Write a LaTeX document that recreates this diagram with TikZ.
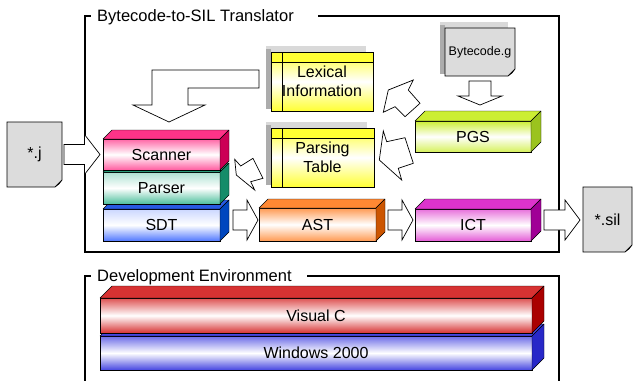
\documentclass[tikz,border=0pt]{standalone}
\usepackage{fontspec}
\setmainfont{Liberation Sans}
\usetikzlibrary{calc, backgrounds}

\definecolor{scanpink}{RGB}{255,51,136}
\definecolor{scanside}{RGB}{204,0,85}
\definecolor{parsegreen}{RGB}{45,179,138}
\definecolor{parseside}{RGB}{20,140,105}
\definecolor{sdtblue}{RGB}{40,90,225}
\definecolor{sdtside}{RGB}{0,70,190}
\definecolor{sdtfront}{RGB}{80,120,255}
\definecolor{astorange}{RGB}{255,136,51}
\definecolor{astside}{RGB}{204,85,0}
\definecolor{ictmagenta}{RGB}{221,51,204}
\definecolor{ictside}{RGB}{160,0,150}
\definecolor{pgslime}{RGB}{204,238,51}
\definecolor{pgsside}{RGB}{155,195,30}
\definecolor{vcred}{RGB}{215,50,50}
\definecolor{vcside}{RGB}{170,0,0}
\definecolor{winblue}{RGB}{70,70,225}
\definecolor{winside}{RGB}{40,40,200}
\definecolor{noteyellow}{RGB}{255,255,51}
\definecolor{docgray}{RGB}{220,220,220}

\tikzstyle{cubefront} = [rectangle, draw=black, outer sep=0pt, inner sep=0pt, font=\fontsize{16}{19}\selectfont]
\tikzstyle{notecard} = [rectangle, draw=black, outer sep=0pt, inner sep=0pt, minimum width=102, minimum height=59, align=center, top color=noteyellow, bottom color=noteyellow, middle color=white, font=\fontsize{16}{19}\selectfont]
\tikzstyle{docpage} = [rectangle, outer sep=0pt, inner sep=0pt, font=\fontsize{16}{19}\selectfont]
\tikzstyle{blockarrow} = [draw=black, fill=white, line width=0.7pt, line join=miter]
\tikzstyle{frameline} = [line width=1.6pt]
\tikzstyle{framelabel} = [anchor=west, inner sep=0pt, font=\fontsize{16.5}{19}\selectfont]

% top and right faces of a box: node, depth, top colour, side colour
\newcommand{\cubesides}[4]{%
  \filldraw[fill=#3, line join=round] (#1.north west) -- ++(#2,-#2) -- ([shift={(#2,-#2)}]#1.north east) -- (#1.north east) -- cycle;
  \filldraw[fill=#4, line join=round] (#1.north east) -- ++(#2,-#2) -- ([shift={(#2,-#2)}]#1.south east) -- (#1.south east) -- cycle;}

% grey shadow on the top and left of a card
\newcommand{\cardshadow}[1]{%
  \begin{pgfonlayer}{background}
    \fill[gray!30] ([shift={(-5,-6)}]#1.north west) rectangle ([shift={(-7,0)}]#1.north east);
    \fill[gray!65] ([shift={(-5,-3)}]#1.north west) rectangle ([shift={(0,-2)}]#1.south west);
  \end{pgfonlayer}}

\newcommand{\cardlines}[1]{%
  \filldraw[fill=noteyellow] (#1.north west) rectangle ([yshift=-10]#1.north east);
  \draw ([xshift=11]#1.north west) -- ([xshift=11]#1.south west);}

% page with a folded corner
\newcommand{\docshape}[1]{%
  \begin{pgfonlayer}{background}
    \filldraw[fill=docgray, line width=0.6pt] (#1.north west) -- (#1.north east) -- ([yshift=7]#1.south east) -- ([xshift=-7]#1.south east) -- (#1.south west) -- cycle;
    \filldraw[fill=white, line width=0.6pt] ([yshift=7]#1.south east) -- ([xshift=-3,yshift=3]#1.south east) -- ([xshift=-7]#1.south east) -- cycle;
  \end{pgfonlayer}}

\newcommand{\rightblock}[3][13pt]{%
  \draw[blockarrow] let \p1=#2, \p2=#3 in
    (\x1,\y1+10pt) -- (\x2-#1,\y1+10pt) -- (\x2-#1,\y1+20pt) -- (\x2,\y1) -- (\x2-#1,\y1-20pt) -- (\x2-#1,\y1-10pt) -- (\x1,\y1-10pt) -- cycle;}

\newcommand{\downblock}[2]{%
  \draw[blockarrow] let \p1=#1, \p2=#2 in
    (\x1-11pt,\y1) -- (\x1+11pt,\y1) -- (\x1+11pt,\y2+9pt) -- (\x1+22pt,\y2+9pt) -- (\x1,\y2) -- (\x1-22pt,\y2+9pt) -- (\x1-11pt,\y2+9pt) -- cycle;}

\begin{document}
\begin{tikzpicture}[x=1pt, y=-1pt]
  \useasboundingbox (0,0) rectangle (634,380);

  % frames
  \draw[frameline] (318,16) -- (559,16) -- (559,252) -- (85,252) -- (85,16) -- (91,16);
  \node (translator) [framelabel] at (97,17) {Bytecode-to-SIL Translator};
  \draw[frameline] (307,276) -- (559,276) -- (559,381);
  \draw[frameline] (85,381) -- (85,276) -- (91,276);
  \node (devenv) [framelabel] at (97,277) {Development Environment};

  % development environment
  \node (windows) [cubefront, minimum width=432, minimum height=34, top color=winblue!80, bottom color=winblue, middle color=white] at (316,353) {Windows 2000};
  \cubesides{windows}{12}{winblue}{winside}
  \node (visualc) [cubefront, minimum width=432, minimum height=35, top color=vcred!85, bottom color=vcred, middle color=white] at (316,315.5) {Visual C};
  \cubesides{visualc}{12}{vcred}{vcside}

  % translator stack
  \node (sdt) [cubefront, minimum width=117, minimum height=32, top color=sdtfront!30, bottom color=sdtfront, middle color=white] at (161.5,225) {SDT};
  \cubesides{sdt}{9}{sdtblue}{sdtside}
  \node (parser) [cubefront, minimum width=117, minimum height=32, top color=parsegreen!40, bottom color=parsegreen!85, middle color=white] at (161.5,188) {Parser};
  \cubesides{parser}{9}{parsegreen}{parseside}
  \node (scanner) [cubefront, minimum width=117, minimum height=31, top color=scanpink!75, bottom color=scanpink!80, middle color=white] at (161.5,154.5) {Scanner};
  \cubesides{scanner}{9}{scanpink}{scanside}

  \node (ast) [cubefront, minimum width=117, minimum height=33, top color=astorange!85, bottom color=astorange!85, middle color=white] at (317.5,224.5) {AST};
  \cubesides{ast}{9}{astorange}{astside}
  \node (ict) [cubefront, minimum width=116, minimum height=32, top color=ictmagenta!70, bottom color=ictmagenta!80, middle color=white] at (473,225) {ICT};
  \cubesides{ict}{10}{ictmagenta}{ictside}
  \node (pgs) [cubefront, minimum width=116, minimum height=31, top color=pgslime, bottom color=pgslime!80, middle color=white] at (473,136.5) {PGS};
  \cubesides{pgs}{10}{pgslime}{pgsside}

  % tables
  \node (lexinfo) [notecard] at (322,81.5) {Lexical\\Information};
  \cardshadow{lexinfo}
  \cardlines{lexinfo}
  \node (parstable) [notecard, minimum width=103] at (322.5,157.5) {Parsing\\Table};
  \cardshadow{parstable}
  \cardlines{parstable}

  % files
  \node (docj) [docpage, minimum width=55, minimum height=65] at (34.5,154.5) {*.j};
  \docshape{docj}
  \node (docsil) [docpage, minimum width=49, minimum height=65] at (607.5,219.5) {*.sil};
  \docshape{docsil}
  \node (docg) [docpage, minimum width=70, minimum height=48, font=\fontsize{12.5}{15}\selectfont] at (480,52) {Bytecode.g};
  \cardshadow{docg}
  \docshape{docg}

  % block arrows
  \rightblock[15.5pt]{([xshift=2]docj.east)}{([xshift=-3]scanner.west)}
  \rightblock[11pt]{([xshift=13,yshift=5]sdt.east)}{([xshift=-1]ast.west)}
  \rightblock[11pt]{([xshift=12,yshift=4.5]ast.east)}{([xshift=-2]ict.west)}
  \rightblock[15pt]{([xshift=13,yshift=5]ict.east)}{([xshift=-3]docsil.west)}
  \downblock{([yshift=-5]docg.south)}{([yshift=16]pgs.north)}
  \draw[blockarrow] (259,70) -- (152,70) -- (152,105) -- (133,105) -- (169,122) -- (205,105) -- (188,105) -- (188,88) -- (259,88) -- cycle;

  % bent arrows
  \draw[blockarrow] (383.3,112.3) -- (388.3,90) -- (413.3,80) -- (408.3,90) -- (420,103.3) -- (405,116.7) -- (395,106.7) -- cycle;
  \draw[blockarrow] (383.3,131) -- (379.3,160) -- (401.7,180) -- (398.3,168.3) -- (413.3,163.3) -- (405,137.7) -- (386.7,141.7) -- cycle;
  \draw[blockarrow] (234.7,159.3) -- (240.7,166) -- (253,158.3) -- (263,178.3) -- (250.7,181.7) -- (254.7,190) -- (236.3,175) -- cycle;
\end{tikzpicture}
\end{document}
